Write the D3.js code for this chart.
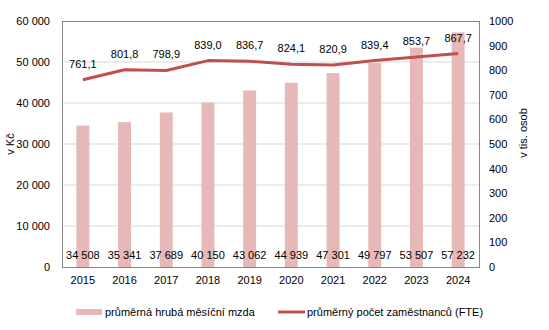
<!DOCTYPE html>
<html><head><meta charset="utf-8">
<script src="https://cdn.jsdelivr.net/npm/d3@7"></script>
<style>body{margin:0;background:#fff}svg{display:block;font-family:"Liberation Sans",Arial,sans-serif}</style>
</head><body>
<svg id="c" width="549" height="330"></svg>
<script>
const years = ["2015","2016","2017","2018","2019","2020","2021","2022","2023","2024"];
const wages = [34508,35341,37689,40150,43062,44939,47301,49797,53507,57232];
const employees = [761.1,801.8,798.9,839.0,836.7,824.1,820.9,839.4,853.7,867.7];
const leftTicks = [0,10000,20000,30000,40000,50000,60000];
const rightTicks = [0,100,200,300,400,500,600,700,800,900,1000];
const seriesNames = ["průměrná hrubá měsíční mzda","průměrný počet zaměstnanců (FTE)"];
const axisTitles = ["v Kč","v tis. osob"];

const svg = d3.select("#c");
const m = {l:62, r:479, t:21, b:267};
const x = d3.scaleBand().domain(years).range([m.l, m.r]).paddingInner(0.69).paddingOuter(0.345);
const yL = d3.scaleLinear().domain([0,60000]).range([m.b, m.t]);
const yR = d3.scaleLinear().domain([0,1000]).range([m.b, m.t]);
const fmt = v => d3.format(",")(v).replace(/,/g, "\u00a0");
const fmtC = v => v.toFixed(1).replace(".", ",");
const barColor = "#e6b8b7", lineColor = "#c0504d";

// gridlines
svg.append("g").selectAll("line").data(leftTicks.slice(1,-1)).join("line")
  .attr("x1", m.l).attr("x2", m.r).attr("y1", d=>yL(d)).attr("y2", d=>yL(d))
  .attr("stroke", "#d9d9d9").attr("stroke-width", 1);

// bars
svg.append("g").selectAll("rect").data(years).join("rect")
  .attr("x", d=>x(d)).attr("width", x.bandwidth())
  .attr("y", (d,i)=>yL(wages[i])).attr("height", (d,i)=>m.b - yL(wages[i]))
  .attr("fill", barColor);

// frame
svg.append("rect").attr("x", m.l+0.5).attr("y", m.t+0.5).attr("width", m.r-m.l).attr("height", m.b-m.t)
  .attr("fill","none").attr("stroke","#868686").attr("stroke-width",1);

// axes
const axL = d3.axisLeft(yL).tickValues(leftTicks).tickFormat(fmt).tickSize(0).tickPadding(12);
const gL = svg.append("g").attr("transform",`translate(${m.l},0)`).call(axL);
const axR = d3.axisRight(yR).tickValues(rightTicks).tickFormat(d=>d).tickSize(0).tickPadding(10);
const gR = svg.append("g").attr("transform",`translate(${m.r},0)`).call(axR);
const axB = d3.axisBottom(x).tickSize(0).tickPadding(9);
const gB = svg.append("g").attr("transform",`translate(0,${m.b})`).call(axB);
[gL,gR,gB].forEach(g=>{g.select(".domain").remove(); g.selectAll("text").attr("font-size",11).attr("fill","#000").attr("font-family","Liberation Sans, Arial, sans-serif");});

// bar value labels
svg.append("g").selectAll("text").data(years).join("text")
  .attr("x", d=>x(d)+x.bandwidth()/2).attr("y", 259)
  .attr("text-anchor","middle").attr("font-size",11).text((d,i)=>fmt(wages[i]));

// line
const cx = d => x(d)+x.bandwidth()/2;
svg.append("path").datum(employees)
  .attr("d", d3.line().x((d,i)=>cx(years[i])).y(d=>yR(d)))
  .attr("fill","none").attr("stroke",lineColor).attr("stroke-width",3).attr("stroke-linejoin","round");
svg.append("g").selectAll("text").data(employees).join("text")
  .attr("x", (d,i)=>cx(years[i])).attr("y", d=>yR(d)-12)
  .attr("text-anchor","middle").attr("font-size",11).text(d=>fmtC(d));

// axis titles
svg.append("text").attr("transform",`translate(14,144) rotate(-90)`).attr("text-anchor","middle").attr("font-size",11).text(axisTitles[0]);
svg.append("text").attr("transform",`translate(527,133) rotate(-90)`).attr("text-anchor","middle").attr("font-size",11).text(axisTitles[1]);

// legend
const ly = 312;
svg.append("rect").attr("x",76).attr("y",ly-3).attr("width",26).attr("height",6).attr("fill",barColor);
svg.append("text").attr("x",105).attr("y",ly+4).attr("font-size",11).text(seriesNames[0]);
svg.append("line").attr("x1",278).attr("x2",305).attr("y1",ly).attr("y2",ly).attr("stroke",lineColor).attr("stroke-width",3);
svg.append("text").attr("x",307).attr("y",ly+4).attr("font-size",11).text(seriesNames[1]);
</script>
</body></html>
